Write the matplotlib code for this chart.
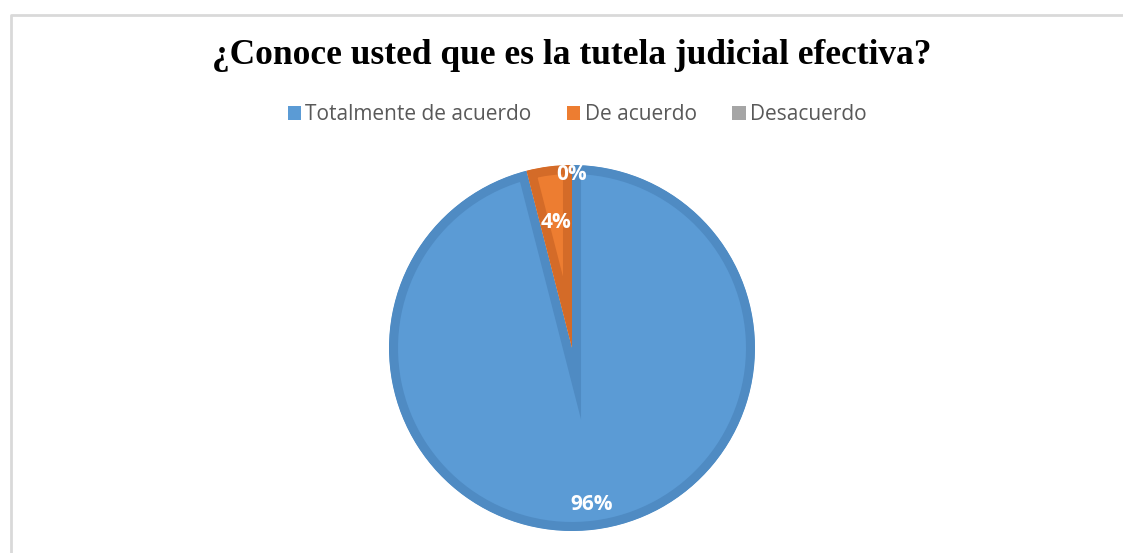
import numpy as np
import matplotlib.pyplot as plt
from matplotlib.patches import Patch

# datos de la encuesta
categorias = ['Totalmente de acuerdo', 'De acuerdo', 'Desacuerdo']
porcentajes = [96, 4, 0]
etiquetas = ['96%', '4%', '0%']
colores = ['#5B9BD5', '#ED7D31', '#A5A5A5']
bordes = ['#4F8BC3', '#D46B28', '#8C8C8C']

W, H = 1123, 553
fig = plt.figure(figsize=(W / 100, H / 100), dpi=100)

# marco gris del grafico
marco = fig.add_axes([0, 0, 1, 1])
marco.set_xlim(0, W)
marco.set_ylim(H, 0)
marco.axis('off')
marco.plot([11, 11, W + 5], [H + 5, 15, 15], color='#D9D9D9', lw=2)

fig.text(572 / W, 1 - 55 / H, '¿Conoce usted que es la tutela judicial efectiva?',
         ha='center', va='center', fontsize=25.5, fontweight='bold',
         family='Liberation Serif', color='black')

# pie
cx, cy, r = 572, 348, 183
ax = fig.add_axes([(cx - r) / W, (H - cy - r) / H, 2 * r / W, 2 * r / H])
wedges, _ = ax.pie(porcentajes, colors=colores, startangle=90, counterclock=False,
                   radius=1)
for w, b, p in zip(wedges, bordes, porcentajes):
    w.set_edgecolor(b)
    w.set_linewidth(13 if p > 0 else 0)
    w.set_clip_on(True)
    w.set_clip_path(w)
ax.set_xlim(-1, 1)
ax.set_ylim(-1, 1)
ax.set_aspect('auto')

# etiquetas de datos (radio tipo "mejor ajuste" de Excel)
radio_lab = [0.86, 0.69, 0.95]
inicio = 90.0
for p, lab, rr in zip(porcentajes, etiquetas, radio_lab):
    medio = np.deg2rad(inicio - p * 3.6 / 2)
    ax.text(rr * np.cos(medio), rr * np.sin(medio), lab, ha='center', va='center',
            color='white', fontsize=15, fontweight='bold', family='Open Sans')
    inicio -= p * 3.6

handles = [Patch(facecolor=c, edgecolor='none') for c in colores]
fig.legend(handles, categorias, loc='center', bbox_to_anchor=(577 / W, 1 - 115 / H),
           ncol=3, frameon=False, handlelength=0.65, handleheight=0.65,
           handletextpad=0.2, columnspacing=1.7, labelcolor='#595959',
           prop={'family': 'Open Sans', 'size': 15})

fig.savefig('out.png', dpi=100)
